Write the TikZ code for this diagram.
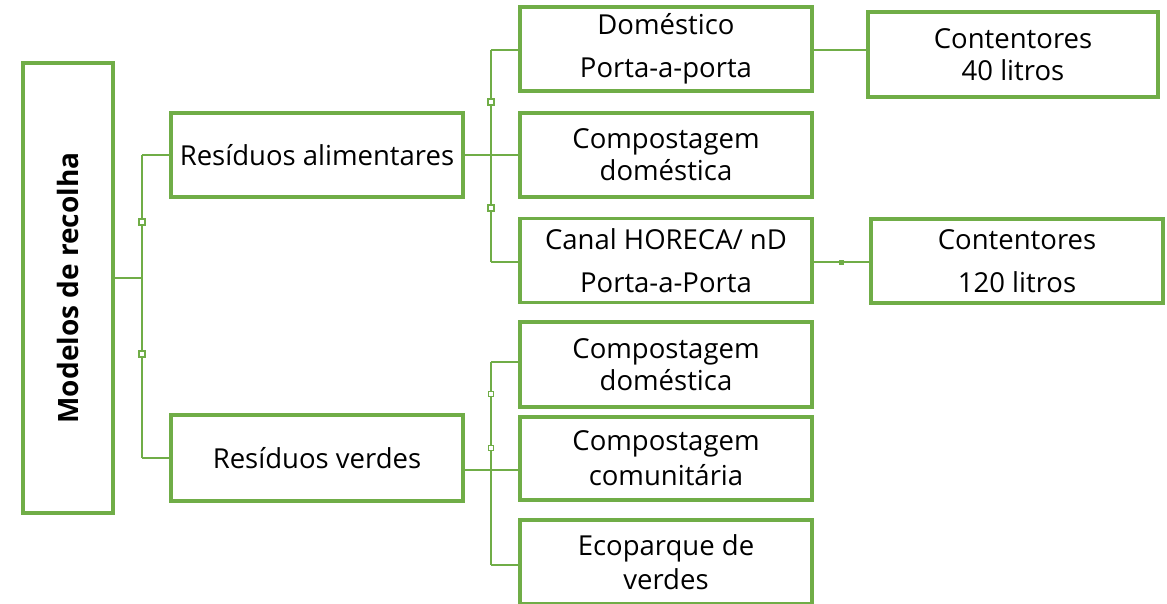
\documentclass[tikz,border=0pt]{standalone}
\usepackage{fontspec}
\setmainfont{Open Sans}
\definecolor{gr}{HTML}{70AD47}
\begin{document}
\begin{tikzpicture}[x=1pt,y=-1pt,
  box/.style={draw=gr,line width=3.6pt,fill=white,rectangle,inner sep=0pt,
    minimum width=292pt,minimum height=84pt,align=center,
    font=\fontsize{27.5}{32}\selectfont},
  wide/.style={font=\fontsize{27.5}{43}\selectfont},
  conn/.style={draw=gr,line width=2.2pt},
  mk/.style={draw=gr,line width=1.4pt,fill=white,rectangle,inner sep=0pt,minimum size=6pt},
  dotmk/.style={fill=gr,rectangle,inner sep=0pt,minimum size=5pt}]
\useasboundingbox (0,0) rectangle (1167,604);
\fill[white] (0,0) rectangle (1167,604);
% boxes
\node[box,minimum width=90pt,minimum height=450pt] (root) at (68,288) {};
\node[rotate=90,font=\fontsize{28}{32}\selectfont\bfseries] (roott) at (68,288) {Modelos de recolha};
\node[box] (ra) at (317,155) {Resíduos alimentares};
\node[box,minimum height=86pt] (rv) at (317,458) {Resíduos verdes};
\node[box,wide] (dom) at (666,49) {Doméstico\\Porta-a-porta};
\node[box] (cd1) at (666,155) {Compostagem\\doméstica};
\node[box,wide] (can) at (666,260.5) {Canal HORECA/ nD\\Porta-a-Porta};
\node[box,minimum width=290pt,minimum height=85pt] (c40) at (1013,54.5) {Contentores\\40 litros};
\node[box,wide] (c120) at (1017,261) {Contentores\\120 litros};
\node[box,minimum height=85pt] (cd2) at (666,364.5) {Compostagem\\doméstica};
\node[box,minimum height=83pt,font=\fontsize{27.5}{35}\selectfont] (cc) at (666,458.5) {Compostagem\\comunitária};
\node[box,font=\fontsize{27.5}{34}\selectfont] (eco) at (666,562) {Ecoparque de\\verdes};
% connector coordinates
\coordinate (t0) at (142,278);
\coordinate (t1) at (142,155);
\coordinate (t2) at (142,458);
\coordinate (a0) at (491,155);
\coordinate (a1) at (491,50);
\coordinate (a2) at (491,262);
\coordinate (v0) at (491,470);
\coordinate (v1) at (491,362);
\coordinate (v2) at (491,565);
% connectors
\draw[conn] (root.east |- t0) -- (t0);
\draw[conn] (t1) -- (t2);
\draw[conn] (t1) -- (ra.west |- t1);
\draw[conn] (t2) -- (rv.west |- t2);
\draw[conn] (ra.east |- a0) -- (cd1.west |- a0);
\draw[conn] (a1) -- (a2);
\draw[conn] (a1) -- (dom.west |- a1);
\draw[conn] (a2) -- (can.west |- a2);
\draw[conn] (dom.east |- a1) -- (c40.west |- a1);
\draw[conn] (can.east |- a2) -- (c120.west |- a2);
\draw[conn] (rv.east |- v0) -- (cc.west |- v0);
\draw[conn] (v1) -- (v2);
\draw[conn] (v1) -- (cd2.west |- v1);
\draw[conn] (v2) -- (eco.west |- v2);
% markers
\node[mk] (m1) at (142,222) {};
\node[mk] (m2) at (142,354) {};
\node[mk] (m3) at (491,102) {};
\node[mk] (m4) at (491,208) {};
\node[mk,minimum size=5pt] (m5) at (491,394) {};
\node[mk,minimum size=5pt] (m6) at (491,448) {};
\node[dotmk] (m7) at (841,262) {};
\end{tikzpicture}
\end{document}
